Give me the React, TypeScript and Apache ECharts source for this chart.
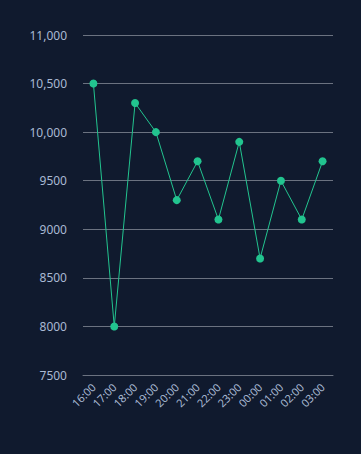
import React, { useEffect, useRef } from "react";
import * as echarts from "echarts";

const categories = ["16:00", "17:00", "18:00", "19:00", "20:00", "21:00", "22:00", "23:00", "00:00", "01:00", "02:00", "03:00"];
const values = [10500, 8000, 10300, 10000, 9300, 9700, 9100, 9900, 8700, 9500, 9100, 9700];
const yMin = 7500;
const yMax = 11000;
const yStep = 500;

export default function App() {
  const ref = useRef<HTMLDivElement>(null);
  useEffect(() => {
    if (!ref.current) return;
    const chart = echarts.init(ref.current, null, { renderer: "svg" });
    chart.setOption({
      animation: false,
      backgroundColor: "#101a2e",
      textStyle: { fontFamily: "Noto Sans" },
      grid: { left: 83, right: 28, top: 35, bottom: 79 },
      xAxis: {
        type: "category",
        data: categories,
        boundaryGap: true,
        axisLine: { lineStyle: { color: "#6b7280", width: 1 } },
        axisTick: { show: false },
        axisLabel: { rotate: 45, color: "#a9b9d3", fontSize: 11, margin: 10, interval: 0 },
      },
      yAxis: {
        type: "value",
        min: yMin,
        max: yMax,
        interval: yStep,
        axisLine: { show: false },
        axisTick: { show: false },
        splitLine: { lineStyle: { color: "#6b7280", width: 1 } },
        axisLabel: {
          color: "#a9b9d3",
          fontSize: 12,
          margin: 16,
          formatter: (v: number) => (v >= 10000 ? v.toLocaleString("en-US") : String(v)),
        },
      },
      series: [
        {
          type: "line",
          data: values,
          symbol: "circle",
          symbolSize: 8,
          lineStyle: { color: "#22c48f", width: 1 },
          itemStyle: { color: "#22c48f" },
        },
      ],
    });
    return () => chart.dispose();
  }, []);
  return <div ref={ref} style={{ position: "fixed", left: 0, top: 0, width: 361, height: 454 }} />;
}
